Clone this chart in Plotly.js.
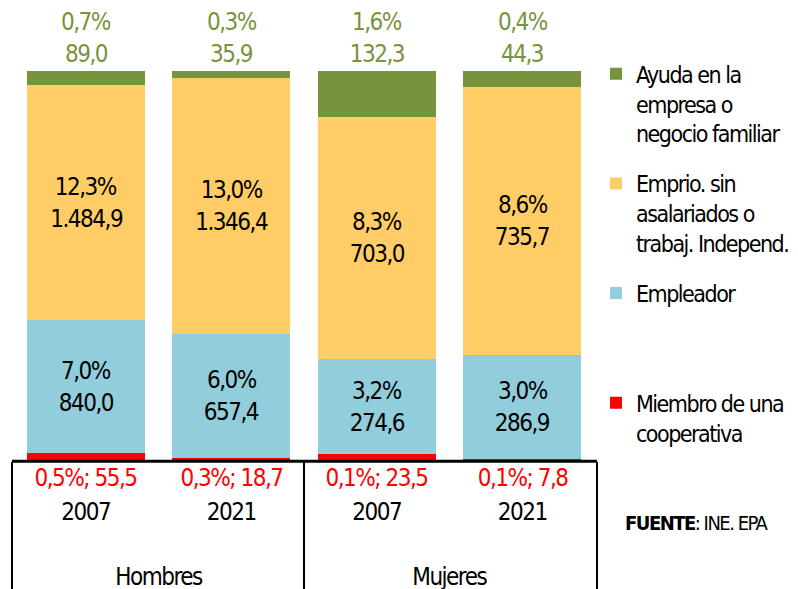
<!DOCTYPE html>
<html>
<head>
<meta charset="utf-8">
<script src="https://cdn.plot.ly/plotly-3.0.1.min.js"></script>
<style>
html,body{margin:0;padding:0;background:#fff;}
#chart{width:798px;height:589px;}
#chart svg text{letter-spacing:-1.5px;}
</style>
</head>
<body>
<div id="chart"></div>
<script>
// ---- data ----
const years = ['2007', '2021', '2007', '2021'];
const groupLabels = ['Hombres', 'Mujeres'];
const cooperativa = [55.5, 18.7, 23.5, 7.8];
const empleador = [840.0, 657.4, 274.6, 286.9];
const emprio = [1484.9, 1346.4, 703.0, 735.7];
const ayuda = [89.0, 35.9, 132.3, 44.3];
const pctCooperativa = ['0,5%', '0,3%', '0,1%', '0,1%'];
const pctEmpleador = ['7,0%', '6,0%', '3,2%', '3,0%'];
const pctEmprio = ['12,3%', '13,0%', '8,3%', '8,6%'];
const pctAyuda = ['0,7%', '0,3%', '1,6%', '0,4%'];
const seriesNames = [
  'Miembro de una<br>cooperativa',
  'Empleador<br> <br> ',
  'Emprio. sin<br>asalariados o<br>trabaj. Independ.',
  'Ayuda en la<br>empresa o<br>negocio familiar'
];
const colors = ['#FF0000', '#92CDDC', '#FFCC66', '#77933C'];

const FONT = '"Liberation Sans Narrow", "DejaVu Sans Condensed", "Arial Narrow", sans-serif';
const xIdx = years.map((_, i) => i);

function fmt(v) {
  const parts = v.toFixed(1).split('.');
  parts[0] = parts[0].replace(/\B(?=(\d{3})+(?!\d))/g, '.');
  return parts[0] + ',' + parts[1];
}

const series = [cooperativa, empleador, emprio, ayuda];
const totals = xIdx.map(i => series.reduce((s, arr) => s + arr[i], 0));

const traces = series.map((vals, k) => ({
  type: 'bar',
  x: xIdx,
  y: vals,
  name: seriesNames[k],
  legendgroup: 'g' + k,
  legendrank: 1000 - k,
  marker: {color: colors[k], line: {width: 0}},
  hoverinfo: 'skip'
}));

const annotations = [];
// inside labels (empleador, emprio)
[[1, pctEmpleador], [2, pctEmprio]].forEach(([k, pcts]) => {
  xIdx.forEach(i => {
    let cum = 0;
    for (let j = 0; j < k; j++) cum += series[j][i];
    const mid = (cum + series[k][i] / 2) / totals[i];
    annotations.push({x: i, y: mid, xref: 'x', yref: 'y', text: pcts[i], showarrow: false,
      yshift: 16, font: {family: FONT, size: 24, color: '#000'}});
    annotations.push({x: i, y: mid, xref: 'x', yref: 'y', text: fmt(series[k][i]), showarrow: false,
      yshift: -16, font: {family: FONT, size: 24, color: '#000'}});
  });
});
// ayuda labels above the bars
xIdx.forEach(i => {
  annotations.push({x: i, y: 1, xref: 'x', yref: 'paper', text: pctAyuda[i], showarrow: false,
    yanchor: 'middle', yshift: 49, font: {family: FONT, size: 24, color: '#77933C'}});
  annotations.push({x: i, y: 1, xref: 'x', yref: 'paper', text: fmt(ayuda[i]), showarrow: false,
    yanchor: 'middle', yshift: 17, font: {family: FONT, size: 24, color: '#77933C'}});
});
// cooperativa labels below axis
xIdx.forEach(i => {
  annotations.push({x: i, y: 0, xref: 'x', yref: 'paper', text: pctCooperativa[i] + ';&nbsp;' + fmt(cooperativa[i]),
    showarrow: false, yanchor: 'middle', yshift: -16, font: {family: FONT, size: 24, color: '#FF0000'}});
});
// group labels
groupLabels.forEach((g, gi) => {
  annotations.push({x: gi * 2 + 0.5, y: 0, xref: 'x', yref: 'paper', text: g, showarrow: false,
    yanchor: 'middle', yshift: -115, font: {family: FONT, size: 24, color: '#000'}});
});
// source
annotations.push({x: 1.048, y: 0, xref: 'paper', yref: 'paper', xanchor: 'left', yanchor: 'middle', align: 'left',
  yshift: -61, text: '<b>FUENTE</b>: INE. EPA', showarrow: false, font: {family: FONT, size: 20, color: '#000'}});

const shapes = [
  {type: 'line', xref: 'paper', yref: 'paper', x0: -0.0017, x1: 1.0034, y0: 0.002, y1: 0.002, line: {color: '#000', width: 3}},
  {type: 'line', xref: 'paper', yref: 'paper', x0: -0.0017, x1: -0.0017, y0: 0, y1: -0.34, line: {color: '#000', width: 2}},
  {type: 'line', xref: 'paper', yref: 'paper', x0: 0.5, x1: 0.5, y0: 0, y1: -0.34, line: {color: '#000', width: 2}},
  {type: 'line', xref: 'paper', yref: 'paper', x0: 1.0034, x1: 1.0034, y0: 0, y1: -0.34, line: {color: '#000', width: 2}}
];

const layout = {
  width: 798, height: 589,
  margin: {l: 13, r: 203, t: 71, b: 127, autoexpand: false},
  paper_bgcolor: '#fff', plot_bgcolor: '#fff',
  barmode: 'stack', barnorm: 'fraction', bargap: 0.19,
  font: {family: FONT, size: 24, color: '#000'},
  xaxis: {range: [-0.5, 3.5], tickvals: xIdx, ticktext: years, ticks: '', showgrid: false,
    zeroline: false, showline: false, ticklabelstandoff: 33, tickfont: {family: FONT, size: 24, color: '#000'}, fixedrange: true},
  yaxis: {range: [0, 1], visible: false, showgrid: false, zeroline: false, fixedrange: true},
  showlegend: true,
  legend: {x: 1.0017, xanchor: 'left', y: 1.048, yanchor: 'top', traceorder: 'grouped', maxheight: 560,
    tracegroupgap: 17, valign: 'top', font: {family: FONT, size: 23, color: '#000'}, bgcolor: 'rgba(0,0,0,0)'},
  annotations: annotations,
  shapes: shapes
};

Plotly.newPlot('chart', traces, layout, {displayModeBar: false, staticPlot: true});
</script>
</body>
</html>
